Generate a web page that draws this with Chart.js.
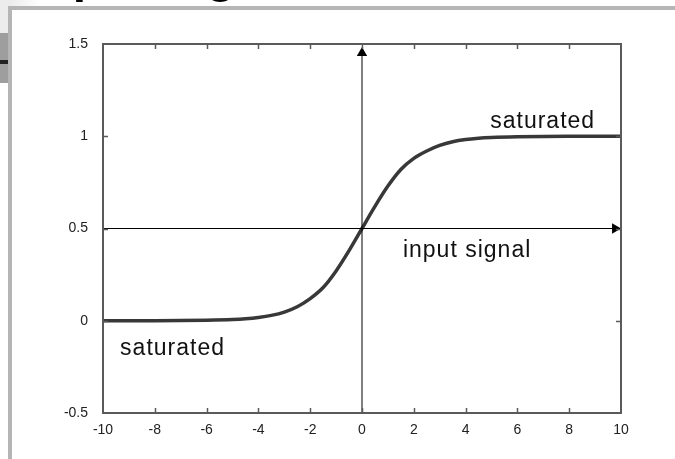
<!DOCTYPE html>
<html>
<head>
<meta charset="utf-8">
<script src="https://cdn.jsdelivr.net/npm/chart.js@4.4.0/dist/chart.umd.min.js"></script>
<style>
  html, body { margin: 0; padding: 0; background: #fff; }
  #c { display: block; }
</style>
</head>
<body>
<canvas id="c" width="675" height="459"></canvas>
<script>
// curve
const xVals = [-10, -9, -8, -7, -6, -5, -4.5, -4, -3.5, -3, -2.5, -2, -1.5, -1, -0.5, 0,
               0.5, 1, 1.5, 2, 2.5, 3, 3.5, 4, 4.5, 5, 6, 7, 8, 9, 10];
const yVals = [0, 0, 0, 0.001, 0.003, 0.007, 0.011, 0.018, 0.029, 0.047, 0.076, 0.12, 0.18, 0.27, 0.38, 0.5,
               0.62, 0.73, 0.82, 0.88, 0.92, 0.95, 0.97, 0.982, 0.989, 0.993, 0.997, 0.999, 1, 1, 1];

const xTicks = [-10, -8, -6, -4, -2, 0, 2, 4, 6, 8, 10];
const yTicks = [-0.5, 0, 0.5, 1, 1.5];

// the two arrowed axes inside the plot
const hAxisX = [-10, 9.77];
const hAxisY = [0.5, 0.5];
const vAxisX = [0, 0];
const vAxisY = [-0.5, 1.451];

const notes = [
  { text: "saturated", x: 4.95, y: 1.045 },
  { text: "input signal", x: 1.58, y: 0.345 },
  { text: "saturated", x: -9.34, y: -0.186 }
];

const curve = xVals.map((x, i) => ({ x: x, y: yVals[i] }));
const hAxis = hAxisX.map((x, i) => ({ x: x, y: hAxisY[i] }));
const vAxis = vAxisX.map((x, i) => ({ x: x, y: vAxisY[i] }));

const frame = {
  id: 'frame',
  beforeDraw(chart) {
    const ctx = chart.ctx;
    ctx.save();
    ctx.fillStyle = '#fff';
    ctx.fillRect(0, 0, 675, 459);
    // slide-ish frame bits around the plot
    let g = ctx.createLinearGradient(0, 0, 40, 0);
    g.addColorStop(0, '#e6e6e6');
    g.addColorStop(1, '#ffffff');
    ctx.fillStyle = g;
    ctx.fillRect(0, 0, 40, 8);
    ctx.fillStyle = '#ececec';
    ctx.fillRect(0, 0, 8, 33);
    ctx.fillStyle = '#9e9e9e';
    ctx.fillRect(0, 33, 8, 50);
    ctx.fillStyle = '#222';
    ctx.fillRect(0, 60, 8, 4);
    ctx.fillStyle = '#b5b5b5';
    ctx.fillRect(8, 6, 667, 4);
    ctx.fillRect(8, 6, 4, 453);
    // title, mostly above the window
    ctx.fillStyle = '#000';
    ctx.font = 'bold 48px "Liberation Sans", Arial, sans-serif';
    ctx.textBaseline = 'alphabetic';
    ctx.fillText('Input Signal', 30, -8);
    ctx.restore();
  },
  afterDatasetsDraw(chart) {
    const ctx = chart.ctx;
    const a = chart.chartArea;
    const xs = chart.scales.x, ys = chart.scales.y;
    ctx.save();
    ctx.strokeStyle = '#5a5a5a';
    ctx.lineWidth = 1.5;
    ctx.beginPath();
    xTicks.slice(1, -1).forEach(v => {
      const p = Math.round(xs.getPixelForValue(v)) + 0.5;
      ctx.moveTo(p, a.bottom); ctx.lineTo(p, a.bottom - 5);
      ctx.moveTo(p, a.top); ctx.lineTo(p, a.top + 5);
    });
    yTicks.slice(1, -1).forEach(v => {
      const p = Math.round(ys.getPixelForValue(v)) + 0.5;
      ctx.moveTo(a.left, p); ctx.lineTo(a.left + 5, p);
      ctx.moveTo(a.right, p); ctx.lineTo(a.right - 5, p);
    });
    ctx.stroke();
    ctx.lineWidth = 2;
    ctx.strokeRect(a.left, a.top, a.right - a.left, a.bottom - a.top);

    ctx.fillStyle = '#111';
    ctx.font = '23px "Liberation Sans", Arial, sans-serif';
    ctx.letterSpacing = '1px';
    ctx.textBaseline = 'alphabetic';
    notes.forEach(n => {
      ctx.fillText(n.text, xs.getPixelForValue(n.x), ys.getPixelForValue(n.y));
    });
    ctx.restore();
  }
};

new Chart(document.getElementById('c'), {
  type: 'scatter',
  data: {
    datasets: [
      {
        data: hAxis,
        showLine: true,
        borderColor: '#000',
        borderWidth: 1,
        pointStyle: 'triangle',
        pointRadius: [0, 6],
        pointRotation: [0, 90],
        pointBackgroundColor: '#000',
        pointBorderColor: '#000',
        pointBorderWidth: 0,
        clip: false
      },
      {
        data: vAxis,
        showLine: true,
        borderColor: '#000',
        borderWidth: 1,
        pointStyle: 'triangle',
        pointRadius: [0, 6],
        pointBackgroundColor: '#000',
        pointBorderColor: '#000',
        pointBorderWidth: 0,
        clip: false
      },
      {
        data: curve,
        showLine: true,
        borderColor: '#383838',
        borderWidth: 3.5,
        pointRadius: 0,
        cubicInterpolationMode: 'monotone'
      }
    ]
  },
  options: {
    responsive: false,
    animation: false,
    layout: { padding: { left: 0, top: 44, right: 54, bottom: 0 } },
    plugins: { legend: { display: false }, tooltip: { enabled: false } },
    scales: {
      x: {
        type: 'linear',
        min: -10, max: 10,
        afterBuildTicks: s => { s.ticks = xTicks.map(v => ({ value: v })); },
        afterFit: s => { s.height = 46; },
        grid: { display: false },
        border: { display: false },
        ticks: {
          color: '#222',
          padding: 1,
          font: { family: '"Liberation Sans", Arial, sans-serif', size: 14 },
          callback: v => String(v)
        }
      },
      y: {
        type: 'linear',
        min: -0.5, max: 1.5,
        afterBuildTicks: s => { s.ticks = yTicks.map(v => ({ value: v })); },
        afterFit: s => { s.width = 103; },
        grid: { display: false },
        border: { display: false },
        ticks: {
          color: '#222',
          padding: 7,
          font: { family: '"Liberation Sans", Arial, sans-serif', size: 14 },
          callback: v => String(v)
        }
      }
    }
  },
  plugins: [frame]
});
</script>
</body>
</html>
